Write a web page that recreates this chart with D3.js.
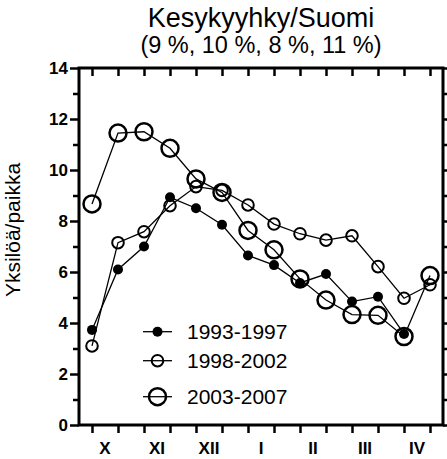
<!DOCTYPE html>
<html><head><meta charset="utf-8">
<script src="https://cdn.jsdelivr.net/npm/d3@7"></script>
<style>
html,body{margin:0;padding:0;background:#fff;}
svg{display:block;font-family:"Liberation Sans",Arial,sans-serif;}
</style></head>
<body><svg id="c" width="447" height="459"></svg>
<script>
const months = ["X","XI","XII","I","II","III","IV"];
const periods = ["1993-1997","1998-2002","2003-2007"];
const s1993 = [3.73, 6.1, 7.0, 8.93, 8.5, 7.85, 6.65, 6.27, 5.57, 5.92, 4.84, 5.03, 3.57, null];
const s1998 = [3.1, 7.15, 7.58, 8.6, 9.35, 9.2, 8.63, 7.88, 7.5, 7.25, 7.42, 6.21, 4.97, 5.5];
const s2003 = [8.67, 11.45, 11.5, 10.85, 9.65, 9.12, 7.63, 6.87, 5.73, 4.9, 4.33, 4.3, 3.47, 5.86];
const yMajor = [0,2,4,6,8,10,12,14];
const yMinor = [1,3,5,7,9,11,13];
const titleText = "Kesykyyhky/Suomi";
const subtitleText = "(9 %, 10 %, 8 %, 11 %)";
const yLabel = "Yksilöä/paikka";

const svg = d3.select("#c");
const L=79, R=443, T=68, B=425;
const x = d3.scaleLinear().domain([-0.5,13.5]).range([L,R]);
const y = d3.scaleLinear().domain([0,14]).range([B,T]);
const idx = d3.range(14);

// titles
svg.append("text").attr("x",261).attr("y",27).attr("text-anchor","middle")
  .attr("font-size",27).text(titleText);
svg.append("text").attr("x",261).attr("y",53).attr("text-anchor","middle")
  .attr("font-size",23.5).text(subtitleText);
svg.append("text").attr("transform","translate(20,230) rotate(-90)")
  .attr("text-anchor","middle").attr("font-size",21).text(yLabel);

// left axis
const gl = svg.append("g").attr("transform",`translate(${L},0)`);
gl.call(d3.axisLeft(y).tickValues(yMajor).tickSize(9).tickSizeOuter(0).tickPadding(2));
gl.selectAll("text").attr("font-size",17).attr("font-weight","bold").attr("font-family","Liberation Sans, Arial").attr("fill","#000");
gl.selectAll(".tick line").attr("stroke-width",2.5);
gl.select(".domain").remove();
const glm = svg.append("g").attr("transform",`translate(${L},0)`);
glm.call(d3.axisLeft(y).tickValues(yMinor).tickSize(6).tickSizeOuter(0).tickFormat(""));
glm.selectAll(".tick line").attr("stroke-width",2.5);
glm.select(".domain").remove();

// right axis
const gr = svg.append("g").attr("transform",`translate(${R},0)`);
gr.call(d3.axisRight(y).tickValues(d3.range(0,15)).tickSize(6).tickSizeOuter(0).tickFormat(""));
gr.selectAll(".tick line").attr("stroke-width",2.5);
gr.select(".domain").remove();

// bottom axis
const gb = svg.append("g").attr("transform",`translate(0,${B})`);
gb.call(d3.axisBottom(x).tickValues(idx).tickSize(8).tickSizeOuter(0).tickFormat(""));
gb.selectAll(".tick line").attr("stroke-width",2.5);
gb.select(".domain").remove();
svg.append("g").selectAll("text").data(months).join("text")
  .attr("x",(d,i)=>x(i*2+0.5)).attr("y",454).attr("text-anchor","middle")
  .attr("font-size",17).attr("font-weight","bold").text(d=>d);

// top axis (ticks inward)
const gt = svg.append("g").attr("transform",`translate(0,${T})`);
gt.call(d3.axisBottom(x).tickValues(idx).tickSize(8).tickSizeOuter(0).tickFormat(""));
gt.selectAll(".tick line").attr("stroke-width",2.5);
gt.select(".domain").remove();

// frame
svg.append("path").attr("d",`M${L},${T}H${R}V${B}H${L}Z`)
  .attr("fill","none").attr("stroke","#000").attr("stroke-width",3);

// series
const series = [
  {name:periods[0], vals:s1993, r:5, fill:"#000", sw:0},
  {name:periods[1], vals:s1998, r:5.8, fill:"none", sw:2},
  {name:periods[2], vals:s2003, r:8.5, fill:"none", sw:2.5}
];
const line = d3.line().defined(d=>d.v!=null).x(d=>x(d.i)).y(d=>y(d.v));
series.forEach(s=>{
  const pts = s.vals.map((v,i)=>({i,v}));
  svg.append("path").datum(pts).attr("d",line).attr("fill","none")
    .attr("stroke","#000").attr("stroke-width",1.3);
  svg.append("g").selectAll("circle").data(pts.filter(d=>d.v!=null)).join("circle")
    .attr("cx",d=>x(d.i)).attr("cy",d=>y(d.v)).attr("r",s.r)
    .attr("fill",s.fill).attr("stroke","#000").attr("stroke-width",s.sw);
});

// legend
const legY = [331.7,360.7,396.7];
series.forEach((s,k)=>{
  const g = svg.append("g");
  g.append("line").attr("x1",143).attr("x2",172).attr("y1",legY[k]).attr("y2",legY[k])
    .attr("stroke","#000").attr("stroke-width",1.3);
  g.append("circle").attr("cx",157.5).attr("cy",legY[k]).attr("r",s.r)
    .attr("fill",s.fill).attr("stroke","#000").attr("stroke-width",s.sw);
  g.append("text").attr("x",187).attr("y",legY[k]+7.5).attr("font-size",21).text(s.name);
});
</script></body></html>
